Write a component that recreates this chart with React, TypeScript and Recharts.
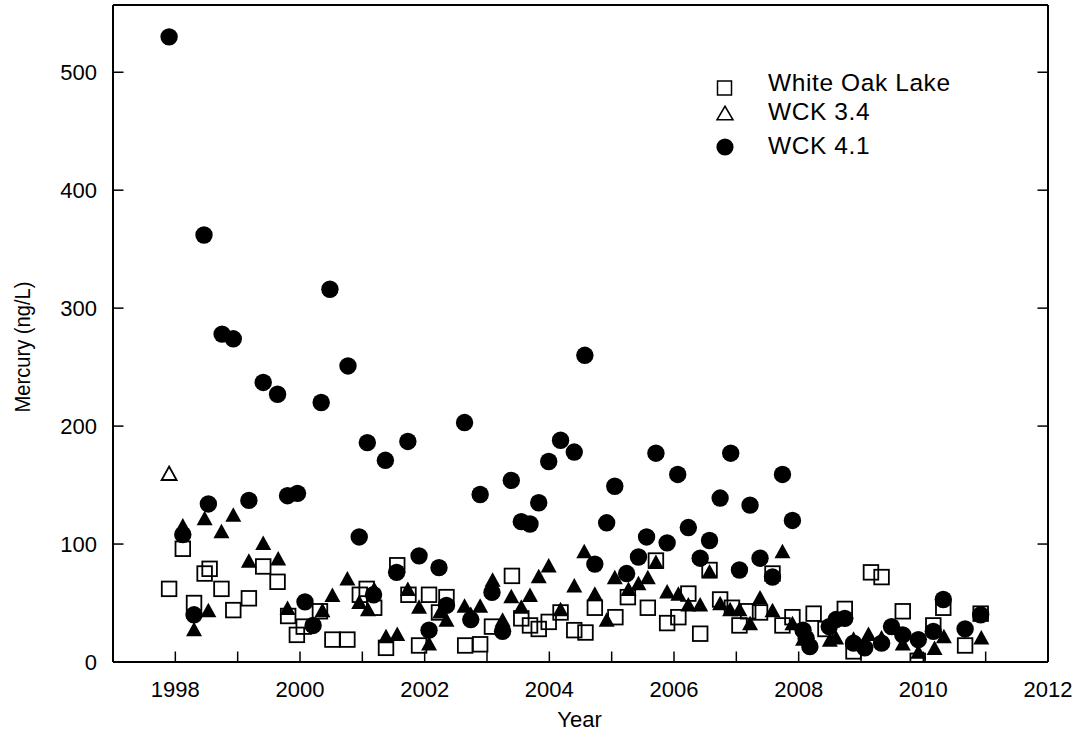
import React from 'react';
import { ScatterChart, Scatter, XAxis, YAxis, Legend, Label } from 'recharts';

// Mercury concentrations (ng/L) by sampling date (decimal year)
const whiteOakLake: [number, number][] = [
  [1997.9, 62], [1998.12, 96], [1998.3, 50], [1998.47, 75], [1998.55, 79], [1998.74, 62],
  [1998.93, 44], [1999.18, 54], [1999.41, 81], [1999.64, 68], [1999.81, 39], [1999.95, 23],
  [2000.06, 30], [2000.32, 43], [2000.52, 19], [2000.76, 19], [2000.96, 57], [2001.07, 62],
  [2001.19, 46], [2001.38, 12], [2001.56, 82], [2001.74, 57], [2001.91, 14], [2002.07, 57],
  [2002.23, 42], [2002.35, 55], [2002.65, 14], [2002.89, 15], [2003.08, 30], [2003.4, 73],
  [2003.55, 37], [2003.69, 31], [2003.83, 28], [2003.99, 34], [2004.18, 42], [2004.4, 27],
  [2004.58, 25], [2004.73, 46], [2005.06, 38], [2005.26, 55], [2005.58, 46], [2005.71, 86],
  [2005.89, 33], [2006.07, 38], [2006.23, 58], [2006.42, 24], [2006.57, 78], [2006.74, 53],
  [2006.93, 46], [2007.05, 31], [2007.19, 43], [2007.38, 42], [2007.58, 75], [2007.74, 31],
  [2007.9, 38], [2008.24, 41], [2008.43, 28], [2008.74, 45], [2008.88, 9], [2009.16, 76],
  [2009.33, 72], [2009.67, 43], [2009.91, 1], [2010.16, 31], [2010.32, 46], [2010.67, 14],
  [2010.92, 41],
];

const wck34: [number, number][] = [
  [1998.12, 116], [1998.3, 28], [1998.47, 122], [1998.53, 44], [1998.74, 111], [1998.93, 125],
  [1999.18, 86], [1999.41, 101], [1999.65, 88], [1999.8, 46], [2000.36, 44], [2000.52, 57],
  [2000.76, 71], [2000.95, 51], [2001.09, 45], [2001.19, 62], [2001.38, 22], [2001.56, 24],
  [2001.73, 62], [2001.91, 47], [2002.07, 16], [2002.25, 43], [2002.35, 36], [2002.64, 48],
  [2002.74, 41], [2002.89, 48], [2003.09, 70], [2003.25, 36], [2003.39, 56], [2003.55, 47],
  [2003.69, 57], [2003.83, 73], [2003.99, 82], [2004.18, 45], [2004.4, 65], [2004.56, 94],
  [2004.73, 58], [2004.92, 36], [2005.05, 72], [2005.27, 62], [2005.43, 67], [2005.58, 72],
  [2005.71, 85], [2005.89, 60], [2006.07, 58], [2006.23, 49], [2006.42, 49], [2006.57, 77],
  [2006.74, 50], [2006.9, 45], [2007.05, 45], [2007.22, 33], [2007.38, 55], [2007.58, 44],
  [2007.74, 94], [2007.9, 33], [2008.07, 20], [2008.5, 19], [2008.6, 21], [2008.88, 20],
  [2009.12, 24], [2009.33, 21], [2009.67, 16], [2009.92, 9], [2010.18, 12], [2010.33, 22],
  [2010.93, 21],
];

// first WCK 3.4 sample, drawn with the open symbol
const wck34First: [number, number][] = [[1997.9, 160]];

const wck41: [number, number][] = [
  [1997.9, 530], [1998.12, 108], [1998.3, 40], [1998.46, 362], [1998.53, 134], [1998.75, 278],
  [1998.93, 274], [1999.18, 137], [1999.41, 237], [1999.64, 227], [1999.8, 141], [1999.96, 143],
  [2000.08, 51], [2000.21, 31], [2000.34, 220], [2000.48, 316], [2000.77, 251], [2000.95, 106],
  [2001.08, 186], [2001.18, 57], [2001.37, 171], [2001.55, 76], [2001.73, 187], [2001.91, 90],
  [2002.07, 27], [2002.23, 80], [2002.35, 48], [2002.64, 203], [2002.74, 36], [2002.89, 142],
  [2003.08, 59], [2003.25, 26], [2003.39, 154], [2003.55, 119], [2003.69, 117], [2003.83, 135],
  [2003.99, 170], [2004.18, 188], [2004.4, 178], [2004.57, 260], [2004.73, 83], [2004.92, 118],
  [2005.05, 149], [2005.24, 75], [2005.43, 89], [2005.56, 106], [2005.71, 177], [2005.89, 101],
  [2006.06, 159], [2006.23, 114], [2006.42, 88], [2006.57, 103], [2006.74, 139], [2006.91, 177],
  [2007.05, 78], [2007.22, 133], [2007.38, 88], [2007.58, 72], [2007.74, 159], [2007.9, 120],
  [2008.07, 27], [2008.12, 20], [2008.18, 13], [2008.49, 30], [2008.6, 36], [2008.74, 37],
  [2008.88, 16], [2009.06, 12], [2009.33, 16], [2009.49, 30], [2009.67, 23], [2009.92, 19],
  [2010.16, 26], [2010.32, 53], [2010.67, 28], [2010.92, 40],
];

const yearTicks = [1998, 1999, 2000, 2001, 2002, 2003, 2004, 2005, 2006, 2007, 2008, 2009, 2010, 2011, 2012];
const hgTicks = [0, 100, 200, 300, 400, 500];

const legendItems = ['White Oak Lake', 'WCK 3.4', 'WCK 4.1'];

const FONT = '"Liberation Sans", Arial, Helvetica, sans-serif';
const TICK_LEN = 10.5;

const toPoints = (rows: [number, number][]) => rows.map(([year, hg]) => ({ year, hg }));

const SquareMark = (p: any) => (
  <rect x={p.cx - 7.3} y={p.cy - 7.3} width={14.6} height={14.6} fill="none" stroke="#000" strokeWidth={1.8} />
);

const triPoints = (cx: number, cy: number, w: number, h: number) =>
  `${cx},${cy - h / 2} ${cx + w / 2},${cy + h / 2} ${cx - w / 2},${cy + h / 2}`;

const TriangleMark = (p: any) => <polygon points={triPoints(p.cx, p.cy, 16, 14.5)} fill="#000" />;

const OpenTriangleMark = (p: any) => (
  <polygon points={triPoints(p.cx, p.cy, 15, 13.5)} fill="none" stroke="#000" strokeWidth={1.8} />
);

const CircleMark = (p: any) => <circle cx={p.cx} cy={p.cy} r={8.7} fill="#000" />;

// Inward-pointing tick marks for the four sides of the frame
const BottomTick = (p: any) => {
  const v = p.payload.value;
  return (
    <g>
      <line x1={p.x} y1={p.y} x2={p.x} y2={p.y - TICK_LEN} stroke="#000" strokeWidth={1.5} />
      {v % 2 === 0 && (
        <text x={p.x} y={p.y + 35} textAnchor="middle" fontSize={22} fontFamily={FONT} fill="#000">
          {v}
        </text>
      )}
    </g>
  );
};

const TopTick = (p: any) => (
  <line x1={p.x} y1={p.y} x2={p.x} y2={p.y + TICK_LEN} stroke="#000" strokeWidth={1.5} />
);

const LeftTick = (p: any) => (
  <g>
    <line x1={p.x} y1={p.y} x2={p.x + TICK_LEN} y2={p.y} stroke="#000" strokeWidth={1.5} />
    <text x={p.x - 16} y={p.y} dy="0.36em" textAnchor="end" fontSize={22} fontFamily={FONT} fill="#000">
      {p.payload.value}
    </text>
  </g>
);

const RightTick = (p: any) => (
  <line x1={p.x} y1={p.y} x2={p.x - TICK_LEN} y2={p.y} stroke="#000" strokeWidth={1.5} />
);

const LegendBox = () => (
  <svg width={280} height={110} style={{ display: 'block', overflow: 'visible' }}>
    <rect x={17.5} y={21} width={14} height={14} fill="none" stroke="#000" strokeWidth={1.5} />
    <polygon points={triPoints(25, 53, 16, 13.5)} fill="none" stroke="#000" strokeWidth={1.5} />
    <circle cx={25} cy={87} r={8.6} fill="#000" />
    {legendItems.map((name, i) => (
      <text
        key={name}
        x={68}
        y={[30.7, 59.7, 94][i]}
        fontFamily={FONT}
        fontSize={24.5}
        letterSpacing={0.6}
        fill="#000"
      >
        {name}
      </text>
    ))}
  </svg>
);

const frame = { stroke: '#000', strokeWidth: 2 };

export default function App() {
  return (
    <div style={{ position: 'absolute', left: 0, top: 0, width: 1081, height: 740, background: '#fff' }}>
      <ScatterChart
        width={1081}
        height={740}
        margin={{ top: 4, right: 32, bottom: 28, left: 0 }}
        style={{ fontFamily: FONT }}
      >
        <XAxis
          xAxisId={0}
          type="number"
          dataKey="year"
          domain={[1997, 2012]}
          ticks={yearTicks}
          allowDataOverflow
          height={50}
          axisLine={frame}
          tickLine={false}
          tickSize={0}
          tickMargin={0}
          tick={BottomTick}
          interval={0}
        >
          <Label
            content={(props: any) => {
              const vb = props.viewBox || {};
              return (
                <text
                  x={vb.x + vb.width / 2 - 1}
                  y={vb.y + 65}
                  textAnchor="middle"
                  fontFamily={FONT}
                  fontSize={22}
                  fill="#000"
                >
                  Year
                </text>
              );
            }}
          />
        </XAxis>
        <XAxis
          xAxisId="top"
          orientation="top"
          type="number"
          domain={[1997, 2012]}
          ticks={yearTicks}
          allowDataOverflow
          height={1}
          axisLine={frame}
          tickLine={false}
          tickSize={0}
          tickMargin={0}
          tick={TopTick}
          interval={0}
        />
        <YAxis
          yAxisId={0}
          type="number"
          dataKey="hg"
          domain={[0, 557]}
          ticks={hgTicks}
          allowDataOverflow
          width={113}
          axisLine={frame}
          tickLine={false}
          tickSize={0}
          tickMargin={0}
          tick={LeftTick}
          interval={0}
        >
          <Label
            content={() => (
              <text
                x={22}
                y={347}
                transform="rotate(-90 22 347)"
                textAnchor="middle"
                dominantBaseline="central"
                fontFamily={FONT}
                fontSize={22}
                textLength={131}
                lengthAdjust="spacingAndGlyphs"
                fill="#000"
              >
                Mercury (ng/L)
              </text>
            )}
          />
        </YAxis>
        <YAxis
          yAxisId="right"
          orientation="right"
          type="number"
          domain={[0, 557]}
          ticks={hgTicks}
          allowDataOverflow
          width={1}
          axisLine={frame}
          tickLine={false}
          tickSize={0}
          tickMargin={0}
          tick={RightTick}
          interval={0}
        />
        <Legend
          layout="horizontal"
          verticalAlign="middle"
          align="center"
          wrapperStyle={{ left: 700, top: 60, width: 280, height: 110 }}
          content={() => <LegendBox />}
        />
        <Scatter
          name="White Oak Lake"
          data={toPoints(whiteOakLake)}
          shape={SquareMark}
          isAnimationActive={false}
        />
        <Scatter
          name="WCK 3.4"
          data={toPoints(wck34)}
          shape={TriangleMark}
          isAnimationActive={false}
        />
        <Scatter
          name="WCK 3.4 first"
          data={toPoints(wck34First)}
          shape={OpenTriangleMark}
          legendType="none"
          isAnimationActive={false}
        />
        <Scatter
          name="WCK 4.1"
          data={toPoints(wck41)}
          shape={CircleMark}
          isAnimationActive={false}
        />
      </ScatterChart>
    </div>
  );
}
